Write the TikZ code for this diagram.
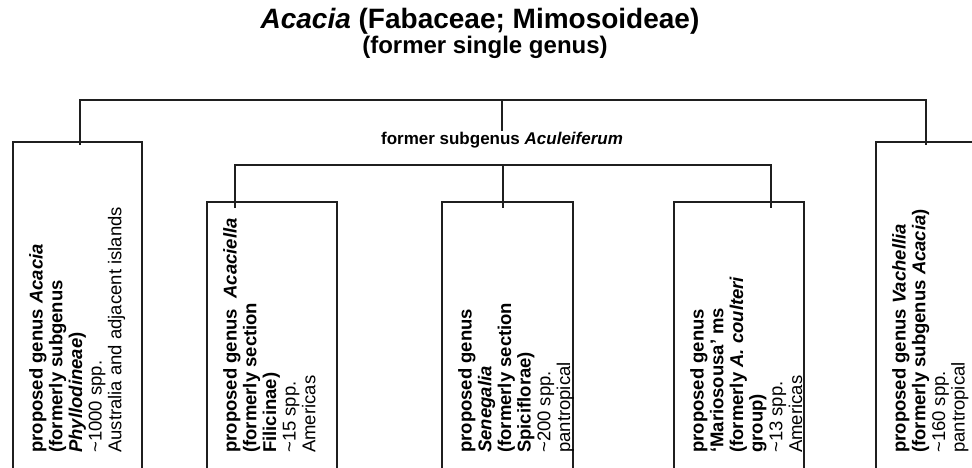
\documentclass[tikz,border=0pt]{standalone}
\usepackage{fontspec}
\setmainfont{Liberation Sans}
\begin{document}
\begin{tikzpicture}[x=1pt,y=-1pt,
  conn/.style={line width=1.6pt, draw=black!88},
  genbox/.style={draw=black!88, line width=1.6pt, anchor=north west, inner sep=0pt, minimum height=380pt},
  gentext/.style={rotate=90, anchor=north west, align=left, inner sep=0pt, font=\fontsize{18.5}{19.7}\selectfont},
]
\useasboundingbox (0,0) rectangle (972,468);
\clip (0,0) rectangle (972,468);
\fill[white] (0,0) rectangle (972,468);

% titles
\node[font=\fontsize{28}{32}\selectfont\bfseries] (title) at (480,21) {\textit{Acacia} (Fabaceae; Mimosoideae)};
\node[font=\fontsize{24}{28}\selectfont\bfseries] (subtitle) at (485,47) {(former single genus)};

% boxes
\node[genbox, minimum width=129pt] (b1) at (12,141) {};
\node[genbox, minimum width=130pt] (b2) at (206,201) {};
\node[genbox, minimum width=131pt] (b3) at (441,201) {};
\node[genbox, minimum width=130pt] (b4) at (673,201) {};
\node[genbox, minimum width=130pt] (b5) at (875,141) {};

% box texts
\node[gentext] (t1) at (29,453) {\textbf{proposed genus \textit{Acacia}}\\\textbf{(formerly subgenus}\\\textbf{\textit{Phyllodineae})}\\\textasciitilde1000 spp.\\Australia and adjacent islands};
\node[gentext] (t2) at (223,453) {\textbf{proposed genus\ \ \textit{Acaciella}}\\\textbf{(formerly section}\\\textbf{Filicinae)}\\\textasciitilde15 spp.\\Americas};
\node[gentext] (t3) at (458,453) {\textbf{proposed genus}\\\textbf{\textit{Senegalia}}\\\textbf{(formerly section}\\\textbf{Spiciflorae)}\\\textasciitilde200 spp.\\pantropical};
\node[gentext] (t4) at (690,453) {\textbf{proposed genus}\\\textbf{‘Mariosousa’ ms}\\\textbf{(formerly \textit{A. coulteri}}\\\textbf{group)}\\\textasciitilde13 spp.\\Americas};
\node[gentext] (t5) at (892,453) {\textbf{proposed genus \textit{Vachellia}}\\\textbf{(formerly subgenus \textit{Acacia})}\\\textasciitilde160 spp.\\pantropical};

% subgenus label
\node[font=\fontsize{17}{20}\selectfont\bfseries, inner sep=1pt] (sub) at (502,140) {former subgenus \textit{Aculeiferum}};

% junction points
\coordinate (top) at (80,100);
\coordinate (mid) at (503,165);

% connectors
\draw[conn] ([shift={(68,4)}]b1.north west) -- (top) -- (926,100) -- ([shift={(51,4)}]b5.north west);
\draw[conn] (sub.north) -- (sub.north |- top);
\draw[conn] ([shift={(29,7)}]b2.north west) -- (235,165) -- (771,165) -- ([shift={(98,7)}]b4.north west);
\draw[conn] (mid) -- ([shift={(62,7)}]b3.north west);
\end{tikzpicture}
\end{document}
